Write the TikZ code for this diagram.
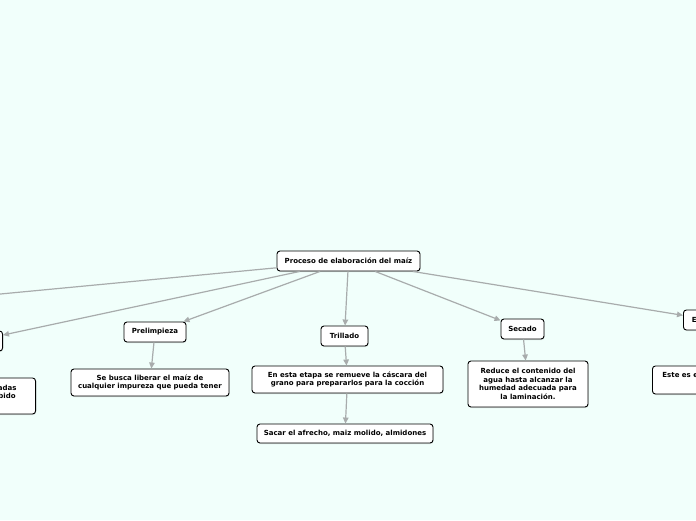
\documentclass[tikz,border=0pt]{standalone}
\usepackage{fontspec}
\setmainfont{DejaVu Sans}
\usetikzlibrary{arrows.meta,shadows}
\definecolor{bg}{RGB}{241,255,251}
\definecolor{edgegray}{RGB}{168,172,172}
\begin{document}
\begin{tikzpicture}[x=1pt,y=-1pt,
  box/.style={draw=black, line width=0.9pt, rounded corners=3pt, fill=white,
    font=\fontsize{7}{8.6}\selectfont\bfseries, align=center, inner sep=0pt,
    drop shadow={opacity=0.25, shadow xshift=0.6pt, shadow yshift=-1pt}},
  link/.style={draw=edgegray, line width=1.2pt, -{Triangle[length=6pt,width=5.5pt]}}]
\path[use as bounding box, fill=bg] (0,0) rectangle (696,520);
\clip (0,0) rectangle (696,520);
% nodes
\node[box, minimum width=143pt, minimum height=20pt] (root) at (348.5,261) {Proceso de elaboración del maíz};
\node[box, minimum width=60pt, minimum height=20pt] (fl) at (-200,313) {};
\node[box, minimum width=55pt, minimum height=20pt, anchor=east] (l1) at (3,341) {};
\node[box, inner xsep=19pt, minimum height=36pt, anchor=east] (ld) at (36,396) {Las mazorcas son seleccionadas\\y se almacena el grano recibido\\en silos};
\node[box, minimum width=62pt, minimum height=20pt] (pre) at (155,332) {Prelimpieza};
\node[box, minimum width=158pt, minimum height=27pt] (preD) at (150,382.5) {Se busca liberar el maíz de\\cualquier impureza que pueda tener};
\node[box, minimum width=47pt, minimum height=20pt] (tri) at (344.5,336) {Trillado};
\node[box, minimum width=191pt, minimum height=27pt] (triD) at (347.5,379.5) {En esta etapa se remueve la cáscara del\\grano para prepararlos para la cocción};
\node[box, minimum width=176pt, minimum height=19pt] (sac) at (345,433.5) {Sacar el afrecho, maiz molido, almidones};
\node[box, minimum width=43pt, minimum height=20pt] (sec) at (522.5,329) {Secado};
\node[box, minimum width=120pt, minimum height=46pt] (secD) at (528,384) {Reduce el contenido del\\agua hasta alcanzar la\\humedad adecuada para\\la laminación.};
\node[box, inner xsep=8.5pt, minimum height=20pt, anchor=west] (esc) at (683,320) {Escamado};
\node[box, inner xsep=10pt, minimum height=28pt, anchor=west] (escD) at (652,380) {Este es el proceso donde el grano se\\aplana};
% connectors
\draw[link] (root) -- (fl);
\draw[link] (root) -- (l1);
\draw[link] (root) -- (pre);
\draw[link] (root) -- (tri);
\draw[link] (root) -- (sec);
\draw[link] (root) -- (esc);
\draw[link] (l1) -- (ld);
\draw[link] (pre) -- (preD);
\draw[link] (tri) -- (triD);
\draw[link] (triD) -- (sac);
\draw[link] (sec) -- (secD);
\draw[link] (esc) -- (escD);
\end{tikzpicture}
\end{document}
